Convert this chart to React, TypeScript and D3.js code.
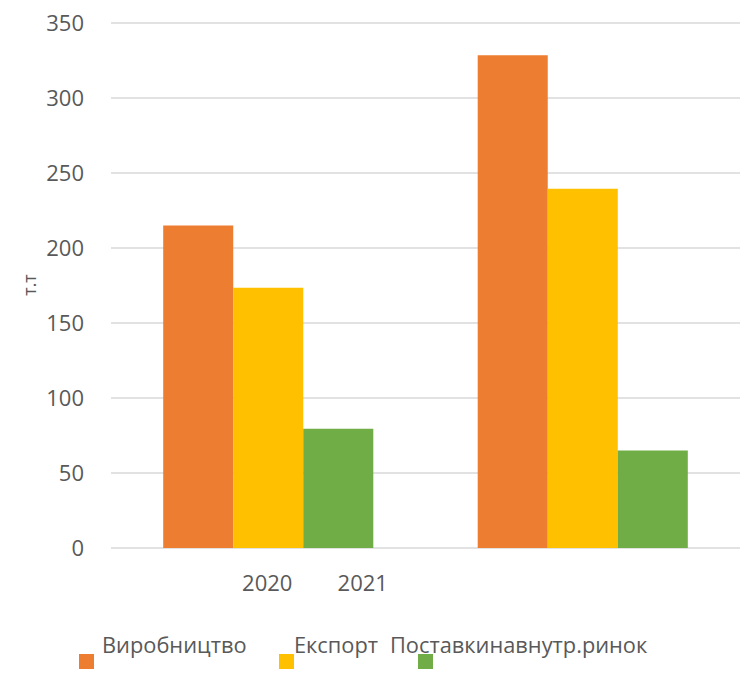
import React from "react";
import * as d3 from "d3";

const categories = ["2020", "2021"];
const series = ["Виробництво", "Експорт", "Поставкинавнутр.ринок"];
const production = [215, 328.5];
const exportVals = [173.5, 239.5];
const domestic = [79.5, 65];
const seriesValues = [production, exportVals, domestic];
const colors = ["#ED7D31", "#FFC000", "#70AD47"];
const yTicks = [0, 50, 100, 150, 200, 250, 300, 350];
const yLabel = "т.т";

const W = 746;
const H = 675;
const FONT = "'Open Sans', 'Liberation Sans', sans-serif";

export default function App() {
  const plotLeft = 111;
  const plotRight = 740;
  const y = d3.scaleLinear().domain([0, 350]).range([548, 23]);
  const x0 = d3.scaleBand<string>().domain(categories).range([plotLeft, plotRight]);
  const bw = x0.bandwidth();
  const x1 = d3
    .scaleBand<string>()
    .domain(series)
    .range([bw * 0.166, bw * 0.834]);

  const legendSquares = [79, 279, 418];
  const legendText = [102, 294, 390];

  return (
    <svg
      width={W}
      height={H}
      style={{ position: "absolute", left: 0, top: 0, background: "#fff" }}
      fontFamily={FONT}
    >
      {yTicks.map((t) => (
        <g key={t}>
          <line
            x1={plotLeft}
            x2={plotRight}
            y1={y(t)}
            y2={y(t)}
            stroke="#D9D9D9"
            strokeWidth={1.3}
          />
          <text
            x={84}
            y={y(t)}
            dy="0.36em"
            textAnchor="end"
            fontSize={22}
            fill="#595959"
          >
            {t}
          </text>
        </g>
      ))}
      {categories.map((c, ci) =>
        series.map((s, si) => {
          const v = seriesValues[si][ci];
          return (
            <rect
              key={c + s}
              x={(x0(c) as number) + (x1(s) as number)}
              y={y(v)}
              width={x1.bandwidth()}
              height={y(0) - y(v)}
              fill={colors[si]}
            />
          );
        })
      )}
      {categories.map((c, ci) => (
        <text
          key={c}
          x={(x0(categories[0]) as number) + bw / 2 - 1 + ci * 95.5}
          y={591}
          textAnchor="middle"
          fontSize={22}
          fill="#595959"
        >
          {c}
        </text>
      ))}
      <text
        transform={`translate(36,285) rotate(-90)`}
        textAnchor="middle"
        fontSize={18}
        fill="#595959"
      >
        {yLabel}
      </text>
      {series.map((s, i) => (
        <g key={s}>
          <rect x={legendSquares[i]} y={654} width={15} height={15} fill={colors[i]} />
          <text x={legendText[i]} y={653} fontSize={21.8} fill="#595959">
            {s}
          </text>
        </g>
      ))}
    </svg>
  );
}
